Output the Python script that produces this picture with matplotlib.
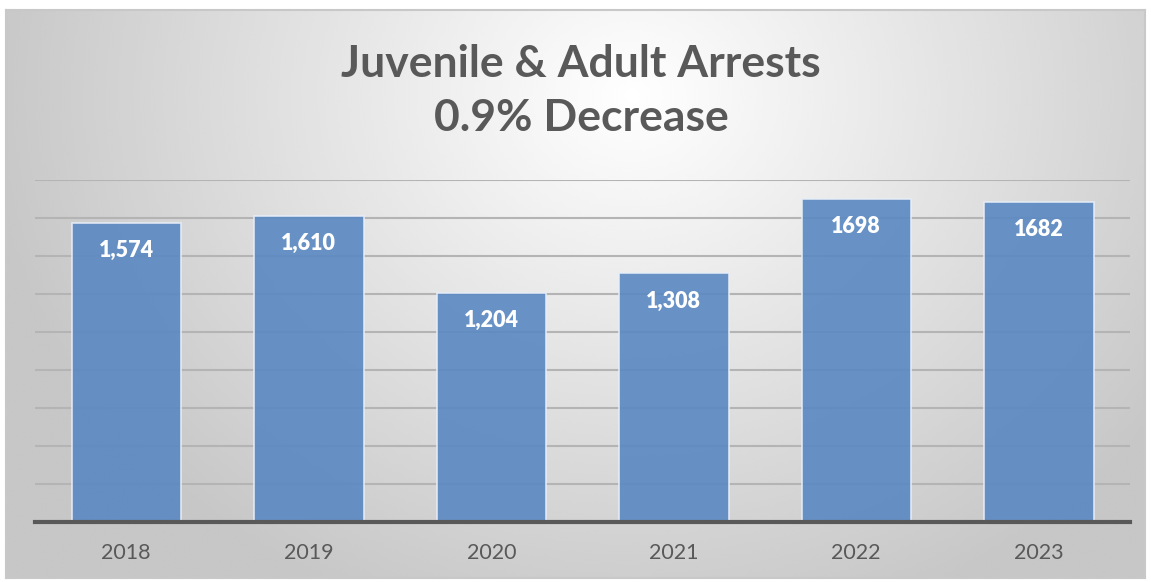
import numpy as np
import matplotlib.pyplot as plt

years = ['2018', '2019', '2020', '2021', '2022', '2023']
arrests = [1574, 1610, 1204, 1308, 1698, 1682]
bar_labels = ['1,574', '1,610', '1,204', '1,308', '1698', '1682']

plt.rcParams['font.family'] = ['Lato', 'DejaVu Sans']

fig = plt.figure(figsize=(11.51, 5.82), dpi=100)

# radial gradient background
bg = fig.add_axes([6/1151, 4/582, 1139/1151, 568/582])
yy, xx = np.mgrid[0:1:300j, 0:1:600j]
r = np.sqrt(((xx - 0.55) / 0.7) ** 2 + ((yy - 0.15) / 1.2) ** 2)
shade = np.clip(1.0 - 0.27 * r, 0.78, 1.0)
bg.imshow(shade, cmap='gray', vmin=0, vmax=1, aspect='auto',
          extent=[0, 1, 1, 0], interpolation='bicubic')
bg.set_xticks([])
bg.set_yticks([])
for s in bg.spines.values():
    s.set_color('#c8c8c8')
    s.set_linewidth(1.5)

ax = fig.add_axes([35/1151, 60/582, 1095/1151, 342/582])
ax.patch.set_alpha(0)
x = np.arange(len(years))
ax.set_xlim(-0.5, len(years) - 0.5)
ax.set_ylim(0, 1800)
ax.set_yticks(range(200, 1801, 200))
ax.yaxis.grid(True, color='#b4b4b4', linewidth=1.5)
ax.set_axisbelow(True)
bars = ax.bar(x, arrests, 0.6, color='#5a88c2', alpha=0.9,
              edgecolor='#e8eef7', linewidth=1.2, zorder=2)
for b, lab in zip(bars, bar_labels):
    ax.text(b.get_x() + b.get_width() / 2, b.get_height() - 145, lab,
            ha='center', va='center', color='white', fontsize=15.5,
            fontweight='heavy', zorder=3)

ax.set_xticks(x)
ax.set_xticklabels(years, fontsize=15.5, color='#595959')
ax.tick_params(axis='x', length=0, pad=15)
ax.tick_params(axis='y', left=False, labelleft=False)
for s in ['top', 'right', 'left']:
    ax.spines[s].set_visible(False)
ax.spines['bottom'].set_color('#595959')
ax.spines['bottom'].set_linewidth(3)

fig.text(581/1151, 1 - 91/582, 'Juvenile & Adult Arrests\n0.9% Decrease',
         ha='center', va='center', fontsize=32, fontweight='bold',
         color='#595959', linespacing=1.45)

fig.savefig('out.png', dpi=100)
